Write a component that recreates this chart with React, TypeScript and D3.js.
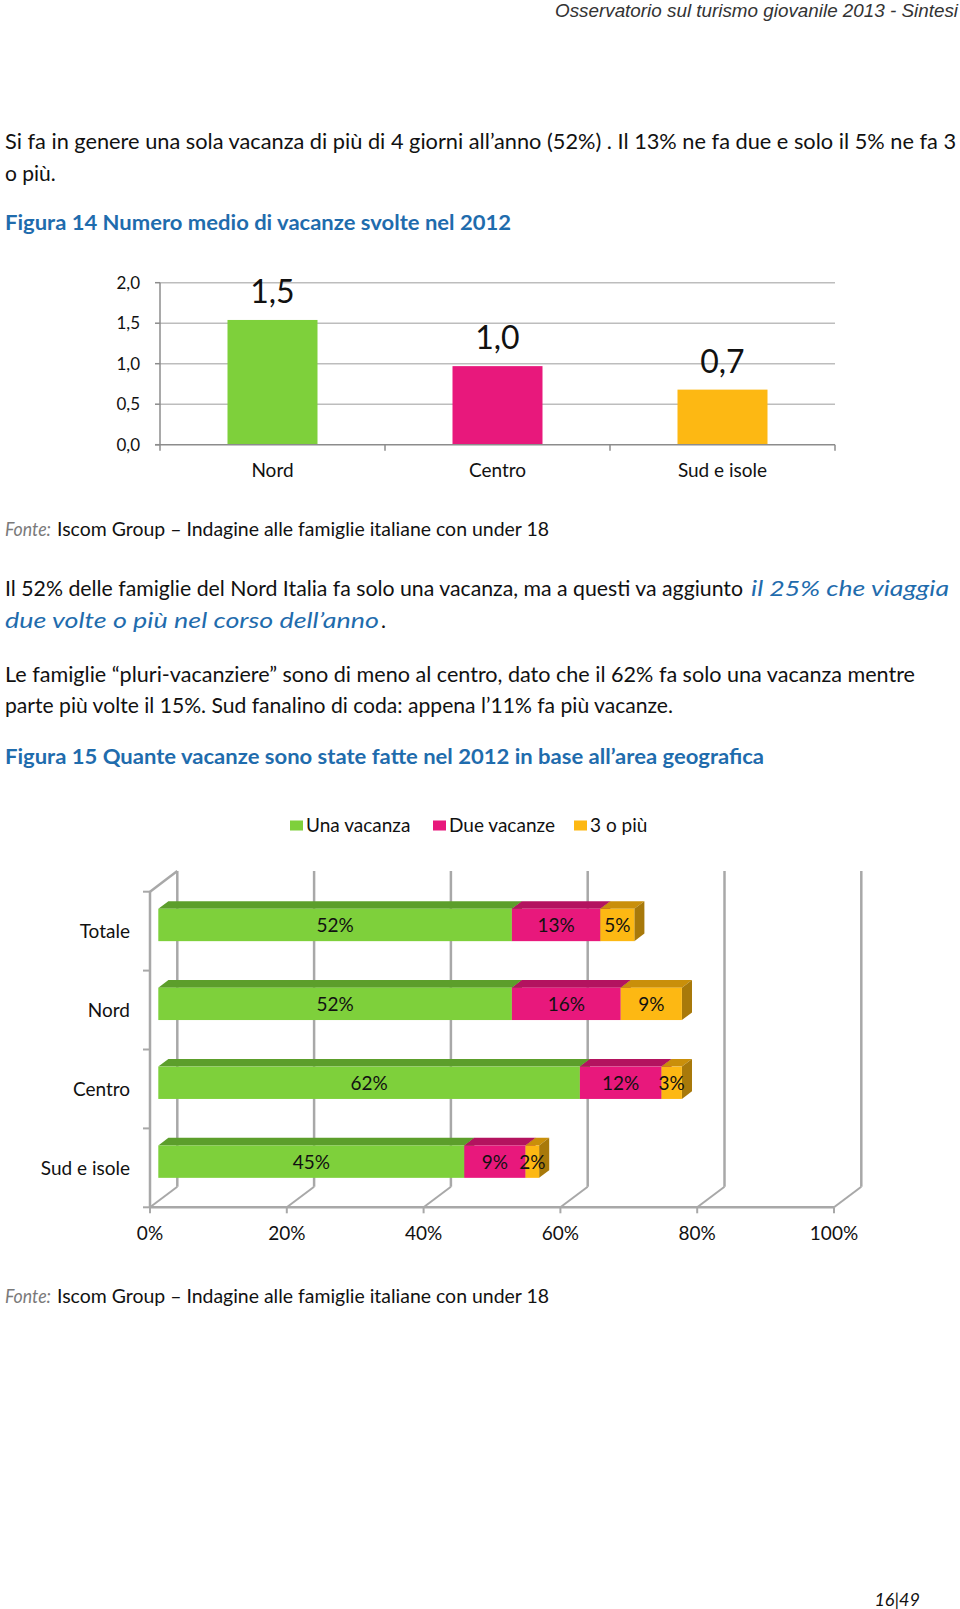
import React from "react";
import * as d3 from "d3";

// ---- Figura 14: numero medio di vacanze ----
const avgCategories = ["Nord", "Centro", "Sud e isole"];
const avgValues = [1.54, 0.97, 0.68];
const avgLabels = ["1,5", "1,0", "0,7"];
const avgColors = ["#7ed03b", "#e8187c", "#fdb813"];
const avgTicks = [0, 0.5, 1, 1.5, 2];

// ---- Figura 15: quante vacanze per area ----
const areaCategories = ["Totale", "Nord", "Centro", "Sud e isole"];
const seriesNames = ["Una vacanza", "Due vacanze", "3 o più"];
const unaVacanza = [52, 52, 62, 45];
const dueVacanze = [13, 16, 12, 9];
const treOPiu = [5, 9, 3, 2];
const pctTicks = [0, 20, 40, 60, 80, 100];

const seriesFront = ["#7ed03b", "#e8187c", "#fdb813"];
const seriesTop = ["#5c9e2b", "#b3135f", "#c98f0a"];
const seriesSide = ["#4f8a24", "#9c1052", "#a8790a"];

const BLUE = "#1f6cad";
const FONT = "Lato, 'Open Sans', sans-serif";

const itFormat = d3.formatLocale({
  decimal: ",",
  thousands: ".",
  grouping: [3],
  currency: ["", "€"],
}).format(".1f");

function AvgChart() {
  const x = d3.scaleBand<string>().domain(avgCategories).range([160, 835]);
  const y = d3.scaleLinear().domain([0, 2]).range([444.7, 282.7]);
  const barW = x.bandwidth() * 0.4;
  const [x0, x1] = x.range();
  const bounds = [x0, ...avgCategories.map((c) => (x(c) as number) + x.bandwidth())];

  return (
    <g fontFamily={FONT}>
      {avgTicks.slice(1).map((t) => (
        <line key={t} x1={x0} x2={x1} y1={y(t)} y2={y(t)} stroke="#bdbdbd" strokeWidth={1.5} />
      ))}
      <line x1={x0} x2={x0} y1={y(2)} y2={y(0)} stroke="#8c8c8c" strokeWidth={1.5} />
      {avgTicks.map((t) => (
        <g key={t}>
          <line x1={x0 - 5} x2={x0} y1={y(t)} y2={y(t)} stroke="#8c8c8c" strokeWidth={1.5} />
          <text x={140} y={y(t) + 6} textAnchor="end" fontSize={17} fill="#111">
            {itFormat(t)}
          </text>
        </g>
      ))}
      {avgCategories.map((c, i) => {
        const cx = (x(c) as number) + x.bandwidth() / 2;
        return (
          <g key={c}>
            <rect x={cx - barW / 2} width={barW} y={y(avgValues[i])} height={y(0) - y(avgValues[i])} fill={avgColors[i]} />
            <text x={cx} y={y(avgValues[i]) - 17} textAnchor="middle" fontSize={32} fill="#111">
              {avgLabels[i]}
            </text>
            <text x={cx} y={477} textAnchor="middle" fontSize={19} fill="#111">
              {c}
            </text>
          </g>
        );
      })}
      <line x1={x0 - 5} x2={x1} y1={y(0)} y2={y(0)} stroke="#8c8c8c" strokeWidth={1.5} />
      {bounds.map((b, i) => (
        <line key={i} x1={b} x2={b} y1={y(0)} y2={y(0) + 6} stroke="#8c8c8c" strokeWidth={1.5} />
      ))}
    </g>
  );
}

function AreaChart() {
  // front plane of the 3D box and the plane the bars sit on
  const xF = d3.scaleLinear().domain([0, 100]).range([150, 834]);
  const xBar = d3.scaleLinear().domain([0, 100]).range([158.3, 838.3]);
  const yB = d3.scaleBand<string>().domain(areaCategories).range([891.7, 1207.3]);
  const depth = { dx: 27.3, dy: -20.6 };
  const barFront = 0.3;
  const barDepth = 0.37;
  const faceH = yB.bandwidth() * 0.41;
  const floorY = yB.range()[1];
  const topY = yB.range()[0];
  const grid = "#a8a8a8";

  const values = [unaVacanza, dueVacanze, treOPiu];

  const ox = depth.dx * barDepth;
  const oy = depth.dy * barDepth;

  return (
    <g fontFamily={FONT}>
      {/* back wall gridlines + floor */}
      {pctTicks.map((t) => (
        <g key={t}>
          <line
            x1={xF(t) + depth.dx}
            x2={xF(t) + depth.dx}
            y1={topY + depth.dy}
            y2={floorY + depth.dy}
            stroke={grid}
            strokeWidth={2.5}
          />
          <line
            x1={xF(t)}
            y1={floorY}
            x2={xF(t) + depth.dx}
            y2={floorY + depth.dy}
            stroke={grid}
            strokeWidth={2}
          />
          <line x1={xF(t)} x2={xF(t)} y1={floorY} y2={floorY + 6} stroke={grid} strokeWidth={2} />
          <text x={xF(t)} y={floorY + 33} textAnchor="middle" fontSize={19} fill="#111">
            {t}%
          </text>
        </g>
      ))}
      {/* left wall */}
      <line x1={xF(0)} x2={xF(0)} y1={topY} y2={floorY} stroke={grid} strokeWidth={2.5} />
      <line x1={xF(0)} y1={topY} x2={xF(0) + depth.dx} y2={topY + depth.dy} stroke={grid} strokeWidth={2.5} />
      <line x1={xF(0)} x2={xF(100)} y1={floorY} y2={floorY} stroke={grid} strokeWidth={2.5} />
      {[...areaCategories.map((c) => yB(c) as number), floorY].map((yy, i) => (
        <line key={i} x1={xF(0) - 7} x2={xF(0)} y1={yy} y2={yy} stroke={grid} strokeWidth={2} />
      ))}

      {/* bars */}
      {areaCategories.map((c, ci) => {
        const cy = (yB(c) as number) + yB.bandwidth() / 2 + depth.dy * barFront;
        const top = cy - faceH / 2;
        const stack = d3.cumsum(values.map((vals) => vals[ci]));
        return (
          <g key={c}>
            <text x={130} y={(yB(c) as number) + yB.bandwidth() / 2 + 7} textAnchor="end" fontSize={19} fill="#111">
              {c}
            </text>
            {values.map((vals, si) => {
              const a = xBar(stack[si] - vals[ci]);
              const b = xBar(stack[si]);
              return (
                <g key={si}>
                  <polygon
                    points={`${a},${top} ${b},${top} ${b + ox},${top + oy} ${a + ox},${top + oy}`}
                    fill={seriesTop[si]}
                  />
                  <polygon
                    points={`${b},${top} ${b + ox},${top + oy} ${b + ox},${top + oy + faceH} ${b},${top + faceH}`}
                    fill={seriesSide[si]}
                  />
                  <rect x={a} y={top} width={b - a} height={faceH} fill={seriesFront[si]} />
                </g>
              );
            })}
            {values.map((vals, si) => (
              <text
                key={si}
                x={xBar(stack[si] - vals[ci] / 2)}
                y={cy + 7}
                textAnchor="middle"
                fontSize={19}
                fill="#111"
              >
                {vals[ci]}%
              </text>
            ))}
          </g>
        );
      })}
    </g>
  );
}

function Legend() {
  const xs = [290, 433, 574];
  return (
    <g fontFamily={FONT} fontSize={19} fill="#111">
      {seriesNames.map((n, i) => (
        <g key={n}>
          <rect x={xs[i]} y={820.5} width={13} height={10} fill={seriesFront[i]} />
          <text x={xs[i] + 16} y={831.5}>
            {n}
          </text>
        </g>
      ))}
    </g>
  );
}

function Fonte({ y }: { y: number }) {
  return (
    <g fontFamily={FONT} fontSize={19}>
      <text x={5} y={y} fill="#7a7a7a" fontStyle="italic" textLength={46} lengthAdjust="spacingAndGlyphs">
        Fonte:
      </text>
      <text x={57} y={y} fill="#111" textLength={492} lengthAdjust="spacingAndGlyphs">
        Iscom Group – Indagine alle famiglie italiane con under 18
      </text>
    </g>
  );
}

export default function App() {
  const body = { fontFamily: FONT, fontSize: 21, fill: "#111" } as const;
  return (
    <svg width={960} height={1609} style={{ position: "absolute", left: 0, top: 0, background: "#fff" }}>
      <rect width={960} height={1609} fill="#fff" />
      <text
        x={958}
        y={17}
        textAnchor="end"
        fontFamily="'Liberation Sans Narrow', 'Liberation Sans', sans-serif"
        fontStyle="italic"
        fontSize={18}
        fill="#333"
        textLength={403}
        lengthAdjust="spacingAndGlyphs"
      >
        Osservatorio sul turismo giovanile 2013 - Sintesi
      </text>

      <text x={5} y={149} {...body} textLength={951} lengthAdjust="spacingAndGlyphs">
        Si fa in genere una sola vacanza di più di 4 giorni all’anno (52%) . Il 13% ne fa due e solo il 5% ne fa 3
      </text>
      <text x={5} y={181} {...body}>
        o più.
      </text>
      <text x={5} y={230} fontFamily={FONT} fontSize={20} fontWeight="bold" fill={BLUE} textLength={506} lengthAdjust="spacingAndGlyphs">
        Figura 14 Numero medio di vacanze svolte nel 2012
      </text>

      <AvgChart />
      <Fonte y={536} />

      <text x={5} y={596} {...body} textLength={738} lengthAdjust="spacingAndGlyphs">
        Il 52% delle famiglie del Nord Italia fa solo una vacanza, ma a questi va aggiunto
      </text>
      <text x={751} y={596} fontFamily={FONT} fontSize={21} fontStyle="italic" fill={BLUE} textLength={198} lengthAdjust="spacingAndGlyphs">
        il 25% che viaggia
      </text>
      <text x={5} y={628} fontFamily={FONT} fontSize={21} fontStyle="italic" fill={BLUE} textLength={374} lengthAdjust="spacingAndGlyphs">
        due volte o più nel corso dell’anno
      </text>
      <text x={381} y={628} {...body}>
        .
      </text>

      <text x={5} y={682} {...body} textLength={910} lengthAdjust="spacingAndGlyphs">
        Le famiglie “pluri-vacanziere” sono di meno al centro, dato che il 62% fa solo una vacanza mentre
      </text>
      <text x={5} y={713} {...body} textLength={668} lengthAdjust="spacingAndGlyphs">
        parte più volte il 15%. Sud fanalino di coda: appena l’11% fa più vacanze.
      </text>
      <text x={5} y={764} fontFamily={FONT} fontSize={20} fontWeight="bold" fill={BLUE} textLength={759} lengthAdjust="spacingAndGlyphs">
        Figura 15 Quante vacanze sono state fatte nel 2012 in base all’area geografica
      </text>

      <Legend />
      <AreaChart />
      <Fonte y={1303} />

      <text x={920} y={1606} textAnchor="end" fontFamily={FONT} fontStyle="italic" fontSize={18} fill="#111">
        16|49
      </text>
    </svg>
  );
}
